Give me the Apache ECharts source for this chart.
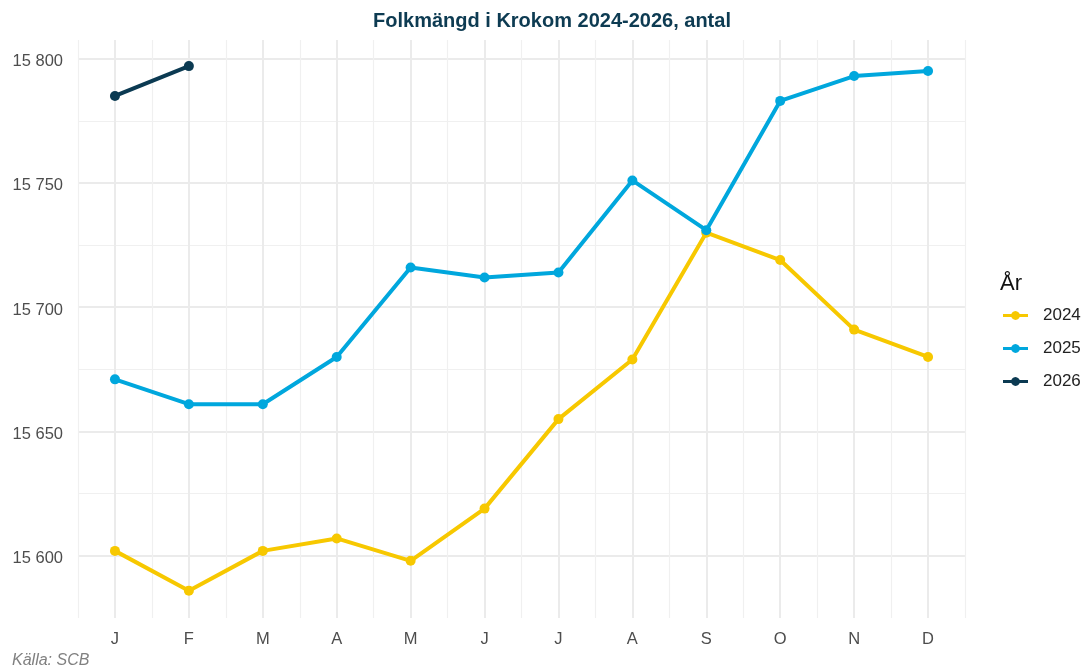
<!DOCTYPE html>
<html>
<head>
<meta charset="utf-8">
<script src="https://cdn.jsdelivr.net/npm/echarts@6/dist/echarts.min.js"></script>
<style>html,body{margin:0;padding:0;background:#fff}#c{width:1086px;height:671px}</style>
</head>
<body>
<div id="c"></div>
<script>
const months = ['J','F','M','A','M','J','J','A','S','O','N','D'];
const years = ['2024','2025','2026'];
const v2024 = [15602,15586,15602,15607,15598,15619,15655,15679,15730,15719,15691,15680];
const v2025 = [15671,15661,15661,15680,15716,15712,15714,15751,15731,15783,15793,15795];
const v2026 = [15785,15797];
const colors = ['#F7C800','#00A7DD','#0B3A52'];
const titleText = 'Folkmängd i Krokom 2024-2026, antal';
const legendTitle = 'År';
const caption = 'Källa: SCB';

const FONT = '"Liberation Sans", Arial, sans-serif';
const fmt = v => String(Math.round(v)).replace(/\B(?=(\d{3})+(?!\d))/g, ' ');
const icon = 'path://M0,3H8.3A4.5,4.5 0 0 1 16.7,3H25V6H16.7A4.5,4.5 0 0 1 8.3,6H0Z';
const yMin = 15575, yMax = 15807.5;

const chart = echarts.init(document.getElementById('c'), null, {renderer:'canvas'});
const seriesVals = [v2024, v2025, v2026];
chart.setOption({
  animation:false,
  color: colors,
  title:[
    {text:titleText, left:547, top:6, textAlign:'center',
     textStyle:{fontFamily:FONT, fontSize:20, fontWeight:'bold', color:'#0D3B52'}},
    {text:legendTitle, left:995, top:268,
     textStyle:{fontFamily:FONT, fontSize:22, fontWeight:'normal', color:'#111'}},
    {text:caption, left:7, top:648,
     textStyle:{fontFamily:FONT, fontSize:16, fontStyle:'italic', fontWeight:'normal', color:'#808080'}}
  ],
  legend:{
    orient:'vertical', left:998, top:302, itemWidth:25, itemHeight:9, itemGap:16,
    icon: icon,
    textStyle:{fontFamily:FONT, fontSize:17, color:'#222', padding:[0,0,0,10]},
    data: years
  },
  grid:{left:78, right:121, top:40, bottom:53, containLabel:false},
  xAxis:[
    {type:'category', data:months, boundaryGap:true, position:'bottom',
     axisLine:{show:false}, axisTick:{show:false},
     axisLabel:{fontFamily:FONT, fontSize:16.5, color:'#4D4D4D', margin:13},
     splitLine:{show:true, interval:0, lineStyle:{color:'#F0F0F0', width:1.2}}},
    {type:'value', min:-0.5, max:11.5, interval:0.5, show:true,
     axisLine:{show:false}, axisTick:{show:false}, axisLabel:{show:false},
     splitLine:{show:true, lineStyle:{color:['rgba(0,0,0,0)','#EBEBEB'], width:2}}}
  ],
  yAxis:[
    {type:'value', min:yMin, max:yMax, interval:25,
     axisLine:{show:false}, axisTick:{show:false},
     axisLabel:{fontFamily:FONT, fontSize:16.5, color:'#4D4D4D', margin:15,
       formatter: v => (Math.abs(v % 50) < 1e-6 ? '{v|' + fmt(v) + '}' : ''),
       rich:{v:{fontFamily:FONT, fontSize:16.5, color:'#4D4D4D', padding:[6,0,0,0]}}},
     splitLine:{show:true, showMaxLine:false, lineStyle:{color:['rgba(0,0,0,0)','#EBEBEB'], width:2}}},
    {type:'value', min:yMin, max:yMax, interval:50,
     axisLine:{show:false}, axisTick:{show:false}, axisLabel:{show:false},
     splitLine:{show:true, showMinLine:false, showMaxLine:false, lineStyle:{color:'#F0F0F0', width:1.2}}}
  ],
  series: years.map((y,i)=>({
    name:y, type:'line', xAxisIndex:0, yAxisIndex:0,
    data: seriesVals[i],
    symbol:'circle', symbolSize:10, showSymbol:true,
    lineStyle:{width:4, color:colors[i]},
    itemStyle:{color:colors[i]},
    z: 2+i
  }))
});
</script>
</body>
</html>
